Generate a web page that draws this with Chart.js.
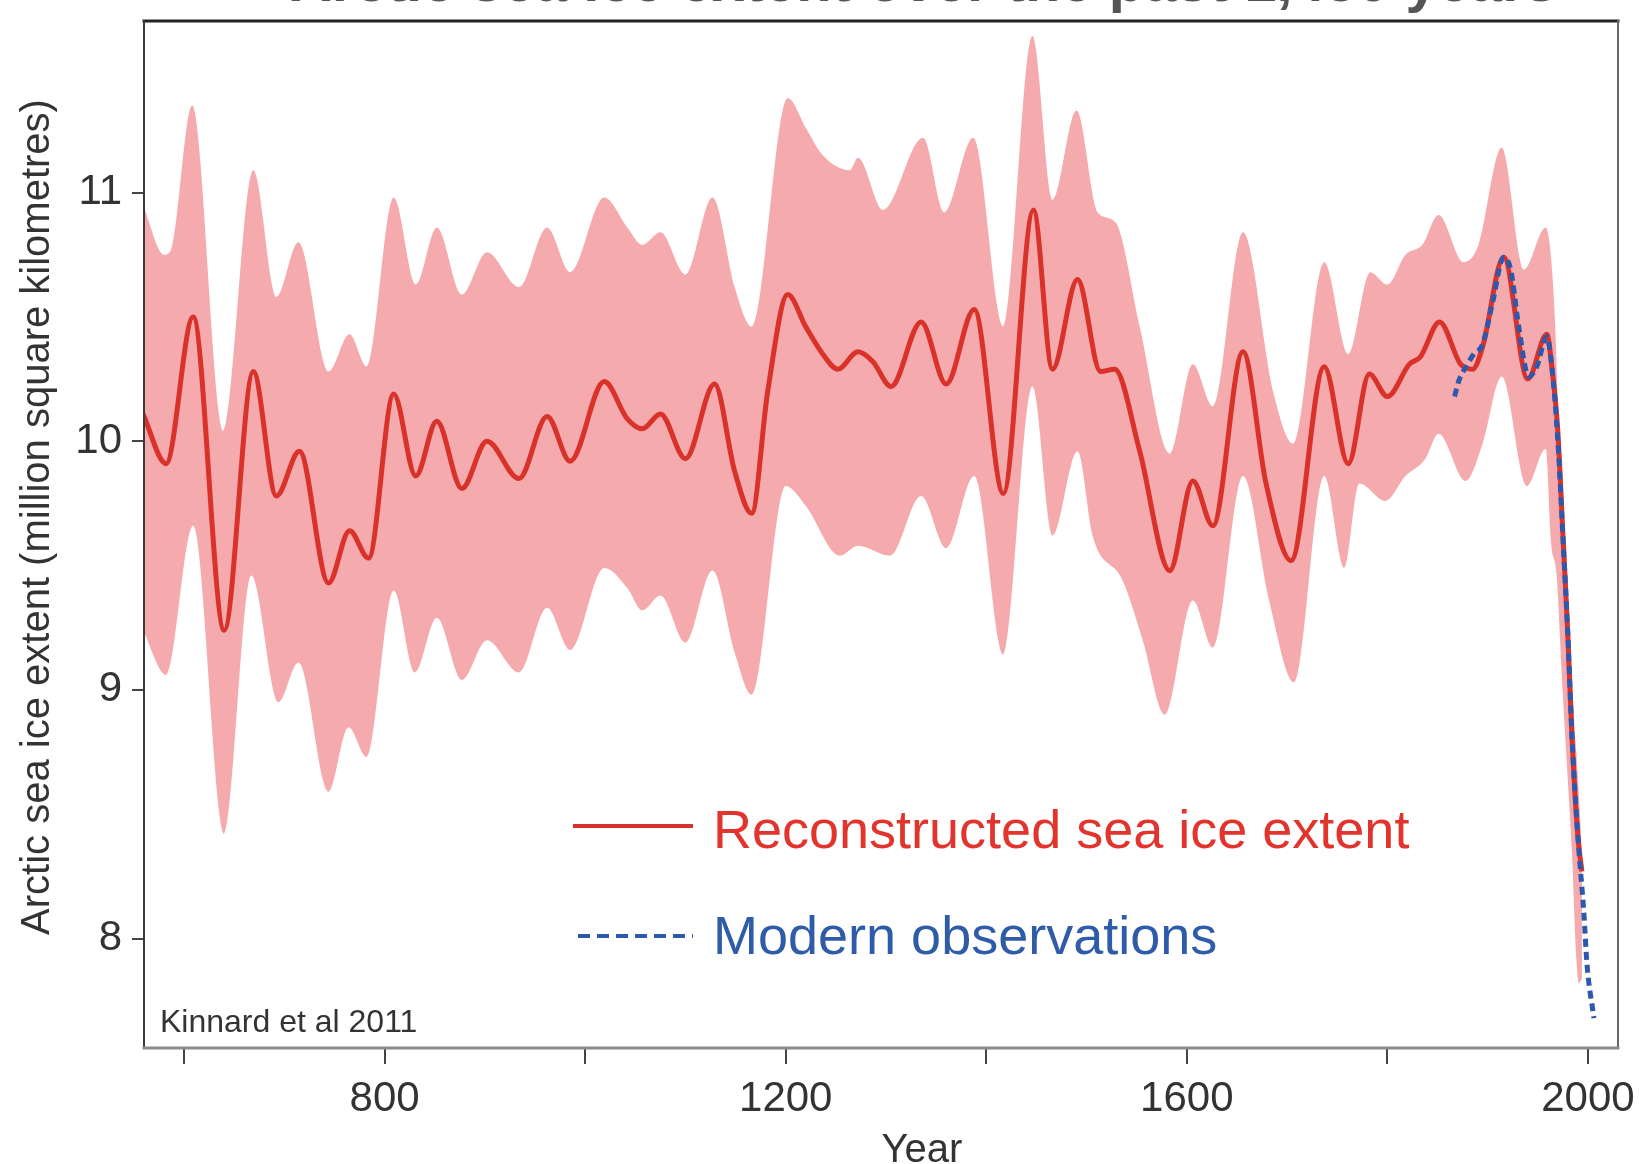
<!DOCTYPE html>
<html>
<head>
<meta charset="utf-8">
<script src="https://cdn.jsdelivr.net/npm/chart.js@4.4.1/dist/chart.umd.min.js"></script>
<style>
  html, body { margin: 0; padding: 0; background: #fff; }
  canvas { display: block; }
</style>
</head>
<body>
<canvas id="chart" width="1639" height="1164"></canvas>
<script>
// Kinnard et al 2011 reconstruction (million km2)
const recYears = [559, 582, 609, 640, 669, 692, 715, 744, 765, 784, 809, 831, 852, 877, 902, 934, 962, 985, 1019, 1042,
  1057, 1075, 1100, 1129, 1149, 1166, 1182, 1202, 1220, 1237, 1252, 1272, 1287, 1305, 1335, 1360, 1388, 1417, 1447, 1466,
  1491, 1514, 1528, 1553, 1583, 1606, 1626, 1656, 1679, 1704, 1737, 1761, 1782, 1800, 1822, 1833, 1852, 1873, 1885, 1895,
  1916, 1940, 1959, 1964, 1970, 1975, 1980, 1984, 1990, 1994];
const recExtent = [10.11, 9.91, 10.50, 9.24, 10.28, 9.78, 9.96, 9.43, 9.64, 9.53, 10.19, 9.86, 10.08, 9.81, 10.00, 9.85, 10.10, 9.92, 10.24, 10.09,
  10.05, 10.11, 9.93, 10.23, 9.88, 9.71, 10.20, 10.59, 10.46, 10.35, 10.29, 10.36, 10.32, 10.22, 10.48, 10.23, 10.53, 9.79, 10.93, 10.29,
  10.65, 10.28, 10.29, 9.96, 9.48, 9.84, 9.66, 10.36, 9.83, 9.52, 10.30, 9.91, 10.27, 10.18, 10.31, 10.34, 10.48, 10.31, 10.29, 10.38,
  10.74, 10.25, 10.43, 10.30, 10.04, 9.63, 9.22, 8.82, 8.41, 8.27];

// upper and lower edge of the uncertainty band
const upperYears = [559, 580, 587, 608, 639, 669, 692, 714, 744, 765, 782, 809, 831, 852, 877, 902, 934, 962, 985, 1019,
  1042, 1057, 1075, 1100, 1127, 1149, 1166, 1202, 1220, 1237, 1264, 1272, 1297, 1337, 1358, 1387, 1417, 1446, 1466, 1490,
  1511, 1529, 1553, 1583, 1606, 1626, 1656, 1686, 1706, 1737, 1761, 1783, 1800, 1818, 1835, 1851, 1876, 1891, 1914, 1936,
  1958, 1964, 1968, 1971, 1974, 1978, 1982, 1986, 1990, 1994];
const upperExtent = [10.95, 10.75, 10.77, 11.35, 10.04, 11.09, 10.58, 10.80, 10.28, 10.43, 10.30, 10.98, 10.63, 10.86, 10.59, 10.76, 10.62, 10.86, 10.68, 10.98,
  10.86, 10.79, 10.84, 10.67, 10.98, 10.62, 10.46, 11.38, 11.26, 11.15, 11.09, 11.14, 10.93, 11.22, 10.92, 11.22, 10.46, 11.63, 10.97, 11.33,
  10.92, 10.88, 10.46, 9.95, 10.31, 10.14, 10.84, 10.20, 9.99, 10.72, 10.35, 10.68, 10.63, 10.75, 10.79, 10.91, 10.72, 10.79, 11.18, 10.69,
  10.86, 10.70, 10.40, 10.00, 9.75, 9.50, 9.20, 8.90, 8.65, 8.35];

const lowerYears = [559, 582, 609, 640, 667, 694, 714, 744, 764, 782, 809, 830, 852, 877, 902, 934, 962, 985, 1019, 1042,
  1057, 1075, 1100, 1127, 1149, 1166, 1200, 1220, 1254, 1272, 1304, 1335, 1360, 1388, 1417, 1446, 1466, 1491, 1506, 1536,
  1556, 1578, 1606, 1626, 1656, 1682, 1707, 1737, 1757, 1772, 1798, 1818, 1838, 1851, 1878, 1895, 1914, 1939, 1958, 1963,
  1969, 1974, 1979, 1984, 1988, 1991, 1994];
const lowerExtent = [9.24, 9.06, 9.66, 8.42, 9.46, 8.95, 9.11, 8.59, 8.85, 8.73, 9.40, 9.07, 9.29, 9.04, 9.20, 9.07, 9.33, 9.16, 9.49, 9.41,
  9.32, 9.38, 9.19, 9.48, 9.15, 8.98, 9.82, 9.74, 9.54, 9.58, 9.54, 9.78, 9.57, 9.86, 9.14, 10.22, 9.62, 9.96, 9.62, 9.44,
  9.20, 8.90, 9.36, 9.17, 9.86, 9.36, 9.03, 9.86, 9.49, 9.83, 9.76, 9.86, 9.93, 10.03, 9.84, 9.99, 10.26, 9.82, 9.97, 9.60,
  9.45, 9.05, 8.70, 8.35, 7.95, 7.82, 7.84];

// modern observations
const obsYears = [1867, 1871, 1880, 1886, 1895, 1905, 1916, 1923, 1931, 1941, 1949, 1959, 1964, 1970, 1975, 1980, 1984, 1990, 1996, 1999, 2006];
const obsExtent = [10.18, 10.24, 10.31, 10.35, 10.39, 10.56, 10.74, 10.69, 10.46, 10.26, 10.30, 10.42, 10.30, 10.00, 9.62, 9.22, 8.82, 8.41, 8.10, 7.90, 7.68];

const xTicks = [600, 800, 1000, 1200, 1400, 1600, 1800, 2000];
const xLabels = [800, 1200, 1600, 2000];
const yTicks = [8, 9, 10, 11];

const FONT = "'Liberation Sans', Arial, Helvetica, sans-serif";
const RED = '#d8322a';
const BLUE = '#2c58ad';
const BAND = '#f5abad';

const pts = (xs, ys) => xs.map((x, i) => ({x, y: ys[i]}));

const decor = {
  id: 'decor',
  afterDatasetsDraw(chart) {
    const {ctx, chartArea: a} = chart;
    ctx.save();
    ctx.lineCap = 'square';
    ctx.strokeStyle = '#222'; ctx.lineWidth = 3;
    ctx.beginPath(); ctx.moveTo(a.left, a.top); ctx.lineTo(a.right, a.top); ctx.stroke();
    ctx.strokeStyle = '#666'; ctx.lineWidth = 2;
    ctx.beginPath(); ctx.moveTo(a.right, a.top); ctx.lineTo(a.right, a.bottom); ctx.stroke();
    ctx.strokeStyle = '#3a3a3a'; ctx.lineWidth = 2;
    ctx.beginPath(); ctx.moveTo(a.left, a.top); ctx.lineTo(a.left, a.bottom); ctx.stroke();
    ctx.strokeStyle = '#8c8c8c'; ctx.lineWidth = 3;
    ctx.beginPath(); ctx.moveTo(a.left, a.bottom); ctx.lineTo(a.right, a.bottom); ctx.stroke();
    ctx.restore();
  },
  afterDraw(chart) {
    const ctx = chart.ctx;
    ctx.save();
    // title, almost entirely cut off by the top edge of the picture
    ctx.fillStyle = '#555';
    ctx.font = 'bold 58px ' + FONT;
    ctx.textAlign = 'right';
    ctx.textBaseline = 'alphabetic';
    ctx.fillText('Arctic sea ice extent over the past 1,450 years', 1557, 1);

    // legend
    ctx.textAlign = 'left';
    ctx.lineWidth = 4;
    ctx.strokeStyle = RED;
    ctx.beginPath(); ctx.moveTo(573, 826); ctx.lineTo(693, 826); ctx.stroke();
    ctx.strokeStyle = BLUE;
    ctx.setLineDash([12, 7]);
    ctx.beginPath(); ctx.moveTo(578, 936); ctx.lineTo(693, 936); ctx.stroke();
    ctx.setLineDash([]);
    ctx.font = '54px ' + FONT;
    ctx.fillStyle = '#e2332c';
    ctx.fillText('Reconstructed sea ice extent', 713, 848);
    ctx.fillStyle = '#2e5ca8';
    ctx.fillText('Modern observations', 713, 954);

    // source note
    ctx.fillStyle = '#333';
    ctx.font = '32px ' + FONT;
    ctx.fillText('Kinnard et al 2011', 160, 1032);

    // axis titles
    ctx.font = '40px ' + FONT;
    ctx.textAlign = 'center';
    ctx.fillText('Year', 922, 1162);
    ctx.translate(49, 517);
    ctx.rotate(-Math.PI / 2);
    ctx.fillText('Arctic sea ice extent (million square kilometres)', 0, 0);
    ctx.restore();
  }
};

new Chart(document.getElementById('chart'), {
  type: 'line',
  data: {
    datasets: [
      {
        label: 'upper',
        data: pts(upperYears, upperExtent),
        borderWidth: 0,
        borderColor: BAND,
        backgroundColor: BAND,
        fill: '+1',
        pointRadius: 0,
        cubicInterpolationMode: 'monotone',
        order: 3
      },
      {
        label: 'lower',
        data: pts(lowerYears, lowerExtent),
        borderWidth: 0,
        borderColor: BAND,
        backgroundColor: BAND,
        fill: false,
        pointRadius: 0,
        cubicInterpolationMode: 'monotone',
        order: 3
      },
      {
        label: 'Reconstructed sea ice extent',
        data: pts(recYears, recExtent),
        borderColor: RED,
        borderWidth: 5,
        fill: false,
        pointRadius: 0,
        cubicInterpolationMode: 'monotone',
        order: 2
      },
      {
        label: 'Modern observations',
        data: pts(obsYears, obsExtent),
        borderColor: BLUE,
        borderWidth: 5,
        borderDash: [8, 5],
        fill: false,
        pointRadius: 0,
        cubicInterpolationMode: 'monotone',
        order: 1
      }
    ]
  },
  options: {
    responsive: false,
    animation: false,
    devicePixelRatio: 1,
    layout: { padding: { top: 21, right: 21, left: 0, bottom: 0 } },
    plugins: {
      legend: { display: false },
      tooltip: { enabled: false }
    },
    scales: {
      x: {
        type: 'linear',
        min: 560,
        max: 2030,
        afterBuildTicks: s => { s.ticks = xTicks.map(v => ({value: v})); },
        afterFit: s => { s.height = 116; s.paddingLeft = 0; s.paddingRight = 0; },
        ticks: {
          autoSkip: false,
          maxRotation: 0,
          padding: 10,
          color: '#333',
          font: { family: FONT, size: 42 },
          callback: v => xLabels.includes(v) ? String(v) : ''
        },
        grid: { drawOnChartArea: false, tickLength: 16, color: '#444', lineWidth: 2 },
        border: { display: false }
      },
      y: {
        min: 7.56,
        max: 11.69,
        afterBuildTicks: s => { s.ticks = yTicks.map(v => ({value: v})); },
        afterFit: s => { s.width = 144; s.paddingTop = 0; s.paddingBottom = 0; },
        ticks: {
          padding: 10,
          color: '#333',
          font: { family: FONT, size: 42 },
          callback: v => String(v)
        },
        grid: { drawOnChartArea: false, tickLength: 12, color: '#444', lineWidth: 2 },
        border: { display: false }
      }
    }
  },
  plugins: [decor]
});
</script>
</body>
</html>
